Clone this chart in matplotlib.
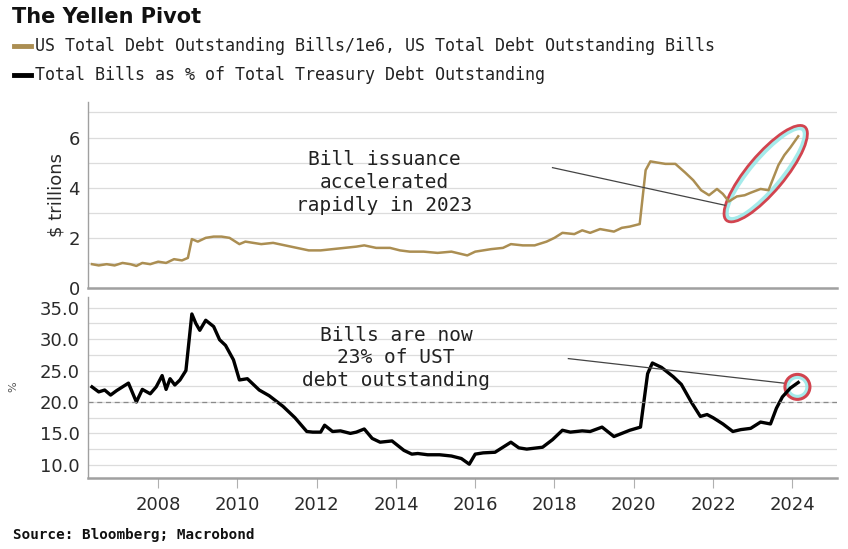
import matplotlib
matplotlib.use("Agg")
import matplotlib.pyplot as plt
from matplotlib.patches import Ellipse
from matplotlib.transforms import ScaledTranslation
import numpy as np

# 資料
years_bills = [2006.33, 2006.5, 2006.7, 2006.9, 2007.1, 2007.3, 2007.45, 2007.6, 2007.8, 2008.0,
               2008.2, 2008.4, 2008.6, 2008.75, 2008.85, 2009.0, 2009.2, 2009.4, 2009.6, 2009.8,
               2010.05, 2010.2, 2010.4, 2010.6, 2010.9, 2011.2, 2011.5, 2011.8, 2012.1, 2012.4,
               2012.7, 2013.0, 2013.2, 2013.5, 2013.85, 2014.1, 2014.35, 2014.7, 2015.05, 2015.4,
               2015.8, 2016.0, 2016.4, 2016.7, 2016.9, 2017.2, 2017.5, 2017.8, 2018.0, 2018.2,
               2018.5, 2018.7, 2018.9, 2019.15, 2019.5, 2019.7, 2019.9, 2020.15, 2020.3, 2020.42,
               2020.6, 2020.8, 2021.05, 2021.3, 2021.5, 2021.7, 2021.9, 2022.1, 2022.25, 2022.4,
               2022.6, 2022.8, 2022.95, 2023.2, 2023.4, 2023.5, 2023.65, 2023.8, 2023.95, 2024.15]
bills_tn = [0.95, 0.9, 0.95, 0.9, 1.0, 0.95, 0.88, 1.0, 0.95, 1.05,
            1.0, 1.15, 1.1, 1.2, 1.95, 1.85, 2.0, 2.05, 2.05, 2.0,
            1.75, 1.85, 1.8, 1.75, 1.8, 1.7, 1.6, 1.5, 1.5, 1.55,
            1.6, 1.65, 1.7, 1.6, 1.6, 1.5, 1.45, 1.45, 1.4, 1.45,
            1.3, 1.45, 1.55, 1.6, 1.75, 1.7, 1.7, 1.85, 2.0, 2.2,
            2.15, 2.3, 2.2, 2.35, 2.25, 2.4, 2.45, 2.55, 4.7, 5.05,
            5.0, 4.95, 4.95, 4.6, 4.3, 3.9, 3.7, 3.95, 3.75, 3.45,
            3.65, 3.7, 3.8, 3.95, 3.9, 4.3, 4.9, 5.3, 5.6, 6.05]

years_pct = [2006.33, 2006.5, 2006.65, 2006.8, 2006.95, 2007.1, 2007.25, 2007.45, 2007.6, 2007.8,
             2007.95, 2008.1, 2008.2, 2008.3, 2008.42, 2008.55, 2008.7, 2008.85, 2008.95, 2009.05,
             2009.2, 2009.4, 2009.55, 2009.7, 2009.9, 2010.05, 2010.25, 2010.4, 2010.55, 2010.8,
             2011.15, 2011.45, 2011.75, 2011.9, 2012.1, 2012.2, 2012.4, 2012.6, 2012.85, 2013.0,
             2013.2, 2013.4, 2013.6, 2013.9, 2014.2, 2014.4, 2014.55, 2014.8, 2015.1, 2015.4,
             2015.65, 2015.85, 2016.0, 2016.2, 2016.5, 2016.9, 2017.1, 2017.3, 2017.7, 2017.95,
             2018.2, 2018.4, 2018.7, 2018.9, 2019.2, 2019.5, 2019.9, 2020.17, 2020.35, 2020.47,
             2020.7, 2021.0, 2021.2, 2021.45, 2021.68, 2021.85, 2022.0, 2022.25, 2022.5, 2022.7,
             2022.95, 2023.2, 2023.45, 2023.6, 2023.75, 2023.95, 2024.15]
bills_pct = [22.4, 21.6, 21.9, 21.1, 21.8, 22.4, 23.0, 20.0, 22.0, 21.3,
             22.4, 24.2, 22.0, 23.7, 22.7, 23.5, 25.0, 34.0, 32.5, 31.4,
             33.0, 32.0, 29.9, 29.0, 26.7, 23.5, 23.7, 22.8, 21.9, 21.0,
             19.3, 17.5, 15.3, 15.2, 15.2, 16.3, 15.3, 15.4, 15.0, 15.2,
             15.7, 14.2, 13.6, 13.8, 12.3, 11.7, 11.8, 11.6, 11.6, 11.4,
             11.0, 10.1, 11.7, 11.9, 12.0, 13.6, 12.7, 12.5, 12.8, 14.0,
             15.5, 15.2, 15.4, 15.3, 16.0, 14.5, 15.5, 16.0, 24.5, 26.2,
             25.5, 24.0, 22.8, 20.0, 17.7, 18.0, 17.5, 16.5, 15.3, 15.6,
             15.8, 16.8, 16.5, 19.0, 20.8, 22.2, 23.1]

x_ticks = [2008, 2010, 2012, 2014, 2016, 2018, 2020, 2022, 2024]

gold = '#ab8e52'
grid_c = '#dcdcdc'
spine_c = '#a0a0a0'
mono = 'DejaVu Sans Mono'

fig = plt.figure(figsize=(8.48, 5.49), dpi=100)
ax1 = fig.add_axes([0.1038, 0.4754, 0.8833, 0.338])
ax2 = fig.add_axes([0.1038, 0.1293, 0.8833, 0.3297])

for ax in (ax1, ax2):
    ax.set_xlim(2006.23, 2025.13)
    for s in ('top', 'right'):
        ax.spines[s].set_visible(False)
    ax.spines['left'].set_color(spine_c)
    ax.spines['bottom'].set_color(spine_c)
    ax.spines['bottom'].set_linewidth(1.8)
    ax.spines['left'].set_linewidth(1.0)
    ax.grid(True, which='both', axis='y', color=grid_c, lw=0.9)
    ax.set_axisbelow(True)
    ax.tick_params(axis='y', which='both', length=0, labelsize=13, labelcolor='#2a2a2a', pad=6)

# top panel
ax1.plot(years_bills, bills_tn, color=gold, lw=1.8)
ax1.set_ylim(0, 7.4)
ax1.set_yticks([0, 2, 4, 6])
ax1.set_yticks([1, 3, 5, 7], minor=True)
ax1.set_xticks([])
ax1.set_ylabel('$ trillions', fontsize=13, color='#2a2a2a', labelpad=2)

# bottom panel
ax2.plot(years_pct, bills_pct, color='black', lw=2.4)
ax2.axhline(20, color='#8a8a8a', lw=0.9, ls=(0, (4, 3)))
ax2.set_ylim(7.9, 36.7)
ax2.set_yticks([10, 15, 20, 25, 30, 35])
ax2.set_yticks([12.5, 17.5, 22.5, 27.5, 32.5], minor=True)
ax2.set_yticklabels(['%.1f' % v for v in [10, 15, 20, 25, 30, 35]])
ax2.set_xticks(x_ticks)
ax2.set_xticklabels([str(y) for y in x_ticks])
ax2.tick_params(axis='x', length=7, color='#b0b0b0', labelsize=13, labelcolor='#2a2a2a', pad=6)
fig.text(0.016, 0.295, '%', rotation=90, fontsize=8, color='#555555', va='center', ha='center')

# annotations
ax1.text(2013.7, 4.2, 'Bill issuance\naccelerated\nrapidly in 2023', family=mono, fontsize=14,
         ha='center', va='center', color='#222222', linespacing=1.25)
ax1.plot([2017.95, 2022.3], [4.8, 3.3], color='#444444', lw=0.9)
ax2.text(2014.0, 27.0, 'Bills are now\n23% of UST\ndebt outstanding', family=mono, fontsize=14,
         ha='center', va='center', color='#222222', linespacing=1.25)
ax2.plot([2018.35, 2023.78], [26.9, 23.0], color='#444444', lw=0.9)

# highlight shapes
tr1 = fig.dpi_scale_trans + ScaledTranslation(2023.33, 4.56, ax1.transData)
ax1.add_patch(Ellipse((0, 0), 1.16, 0.31, angle=50, transform=tr1, fill=False,
                      ec='#8fe6e6', lw=3.0, alpha=0.8))
ax1.add_patch(Ellipse((0, 0), 1.22, 0.37, angle=50, transform=tr1, fill=False,
                      ec='#d2444f', lw=2.0))
tr2 = fig.dpi_scale_trans + ScaledTranslation(2024.13, 22.4, ax2.transData)
ax2.add_patch(Ellipse((0, 0), 0.20, 0.20, transform=tr2, fill=False, ec='#8fe6e6', lw=3, alpha=0.8))
ax2.add_patch(Ellipse((0, 0), 0.25, 0.25, transform=tr2, fill=False, ec='#d2444f', lw=2.2))

# header
fig.text(0.014, 0.969, 'The Yellen Pivot', fontsize=15, fontweight='bold', va='center', color='#111111')
fig.lines.append(plt.Line2D([0.016, 0.036], [0.916, 0.916], color=gold, lw=3.5, transform=fig.transFigure))
fig.text(0.041, 0.916, 'US Total Debt Outstanding Bills/1e6, US Total Debt Outstanding Bills',
         family=mono, fontsize=12, va='center', color='#222222')
fig.lines.append(plt.Line2D([0.016, 0.036], [0.863, 0.863], color='black', lw=3.5, transform=fig.transFigure))
fig.text(0.041, 0.863, 'Total Bills as % of Total Treasury Debt Outstanding',
         family=mono, fontsize=12, va='center', color='#222222')

fig.text(0.015, 0.025, 'Source: Bloomberg; Macrobond', family=mono, fontsize=10.3,
         fontweight='bold', va='center', color='#111111')

fig.savefig('out.png', dpi=100)
